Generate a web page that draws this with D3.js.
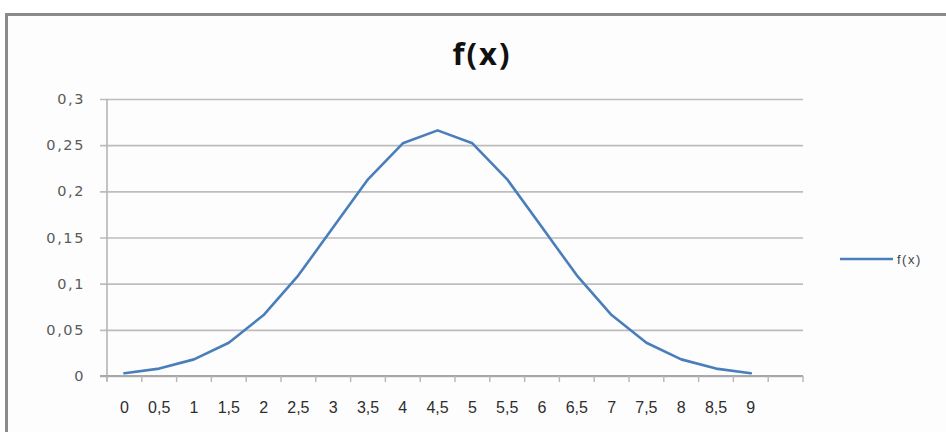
<!DOCTYPE html>
<html>
<head>
<meta charset="utf-8">
<script src="https://cdn.jsdelivr.net/npm/d3@7"></script>
<style>
  html, body { margin: 0; padding: 0; background: #ffffff; }
  svg { display: block; }
</style>
</head>
<body>
<svg id="chart" width="946" height="432"></svg>
<script>
// Category labels along the x axis
const categories = ["0", "0,5", "1", "1,5", "2", "2,5", "3", "3,5", "4", "4,5",
                    "5", "5,5", "6", "6,5", "7", "7,5", "8", "8,5", "9"];
// f(x) value for each category
const fx = [0.003, 0.008, 0.018, 0.036, 0.066, 0.109, 0.161, 0.213, 0.252, 0.266,
            0.252, 0.213, 0.161, 0.109, 0.066, 0.036, 0.018, 0.008, 0.003];
// Value axis ticks
const yTicks = [0, 0.05, 0.1, 0.15, 0.2, 0.25, 0.3];
const seriesName = "f(x)";
const titleText = "f(x)";

const svg = d3.select("#chart");
const W = 946, H = 432;

// Chart area frame
svg.append("rect").attr("x", 0).attr("y", 0).attr("width", W).attr("height", H).attr("fill", "#ffffff");
svg.append("rect").attr("x", 7).attr("y", 15).attr("width", W - 7).attr("height", H - 15)
  .attr("fill", "#fdfdfd");
svg.append("line").attr("x1", 6).attr("x2", W).attr("y1", 14.5).attr("y2", 14.5)
  .attr("stroke", "#8a8a8a").attr("stroke-width", 3);
svg.append("line").attr("x1", 6.5).attr("x2", 6.5).attr("y1", 13).attr("y2", H)
  .attr("stroke", "#8a8a8a").attr("stroke-width", 3);

const plot = { left: 107, right: 803, top: 99, bottom: 376 };

// One extra empty slot at the end of the category axis
const x = d3.scaleBand()
  .domain(d3.range(categories.length + 1))
  .range([plot.left, plot.right]);
const y = d3.scaleLinear().domain([0, 0.3]).range([plot.bottom, plot.top]);

const fmt = d3.formatLocale({ decimal: ",", thousands: ".", grouping: [3], currency: ["", "€"] }).format(".2~f");

// Horizontal gridlines with ticks on the left
const yAxis = d3.axisLeft(y).tickValues(yTicks).tickFormat(fmt)
  .tickSize(-(plot.right - plot.left)).tickSizeOuter(0).tickPadding(22);
const gy = svg.append("g").attr("transform", `translate(${plot.left},0)`).call(yAxis);
gy.select(".domain").remove();
gy.selectAll(".tick line")
  .attr("x1", -7)
  .attr("stroke", "#bdbdbd").attr("stroke-width", 1.6);
gy.selectAll(".tick text")
  .attr("fill", "#5a5a5a").attr("font-family", "'DejaVu Sans', sans-serif")
  .attr("font-size", 14.5).attr("letter-spacing", 1.6);

// Vertical value axis line
svg.append("line").attr("x1", plot.left).attr("x2", plot.left)
  .attr("y1", plot.top).attr("y2", plot.bottom + 5)
  .attr("stroke", "#b5b5b5").attr("stroke-width", 1.6);

// Category axis: line, tick marks at slot boundaries, labels at slot centres
const gx = svg.append("g");
gx.append("line").attr("x1", plot.left - 7).attr("x2", plot.right)
  .attr("y1", plot.bottom).attr("y2", plot.bottom)
  .attr("stroke", "#a8a8a8").attr("stroke-width", 1.8);
const boundaries = x.domain().map(d => x(d)).concat([x.range()[1]]);
gx.selectAll("line.tk").data(boundaries).join("line").attr("class", "tk")
  .attr("x1", d => d).attr("x2", d => d)
  .attr("y1", plot.bottom).attr("y2", plot.bottom + 6)
  .attr("stroke", "#b5b5b5").attr("stroke-width", 1.4);
gx.selectAll("text").data(categories).join("text")
  .attr("x", (d, i) => x(i) + x.bandwidth() / 2)
  .attr("y", 413)
  .attr("text-anchor", "middle")
  .attr("fill", "#2e2e2e")
  .attr("font-family", "'Liberation Sans Narrow', 'Liberation Sans', sans-serif")
  .attr("font-size", 16)
  .text(d => d);

// Series line
const line = d3.line()
  .x((d, i) => x(i) + x.bandwidth() / 2)
  .y(d => y(d));
svg.append("path").datum(fx)
  .attr("d", line)
  .attr("fill", "none")
  .attr("stroke", "#4a7ebb")
  .attr("stroke-width", 2.6)
  .attr("stroke-linejoin", "round")
  .attr("stroke-linecap", "round");

// Title
svg.append("text").attr("x", 482).attr("y", 65)
  .attr("text-anchor", "middle")
  .attr("font-family", "'Open Sans', 'Liberation Sans', sans-serif")
  .attr("font-weight", "bold").attr("font-size", 31)
  .attr("letter-spacing", 2)
  .attr("fill", "#111")
  .text(titleText);

// Legend
const lg = svg.append("g").attr("transform", "translate(840,259)");
lg.append("line").attr("x1", 0).attr("x2", 53).attr("y1", 0).attr("y2", 0)
  .attr("stroke", "#4a7ebb").attr("stroke-width", 2.6);
lg.append("text").attr("x", 57).attr("y", 4.5)
  .attr("font-family", "'Liberation Sans Narrow', 'Liberation Sans', sans-serif")
  .attr("font-size", 13).attr("letter-spacing", 1.5).attr("fill", "#444")
  .text(seriesName);
</script>
</body>
</html>
